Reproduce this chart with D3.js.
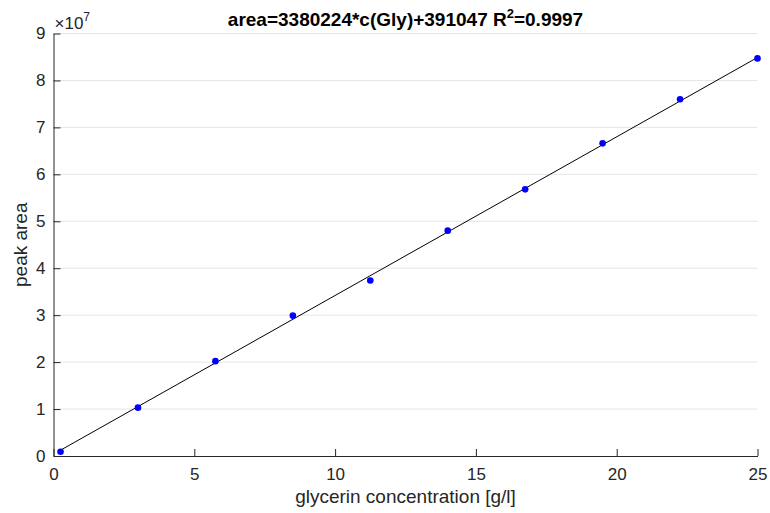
<!DOCTYPE html>
<html lang="en">
<head>
  <meta charset="UTF-8">
  <title>glycerin calibration</title>
  <style>
    body { margin: 0; background: #fff; }
    svg { display: block; font-family: "Liberation Sans", Arial, sans-serif; }
    .axis path, .axis line { stroke: #262626; }
    .axis text { fill: #262626; font-size: 17px; }
    .grid line { stroke: #e6e6e6; }
  </style>
  <script src="https://cdn.jsdelivr.net/npm/d3@7"></script>
</head>
<body>
  <script>
    // measured calibration points
    const conc = [0.25, 3.0, 5.75, 8.5, 11.25, 14.0, 16.75, 19.5, 22.25, 25.0];
    const peakArea = [0.09e7, 1.03e7, 2.02e7, 2.99e7, 3.74e7, 4.80e7, 5.68e7, 6.66e7, 7.60e7, 8.47e7];
    // fit from the title
    const slope = 3380224;
    const intercept = 391047;
    const rSquared = "0.9997";
    const xTicks = [0, 5, 10, 15, 20, 25];
    const yTicks = [0, 1, 2, 3, 4, 5, 6, 7, 8, 9].map(d => d * 1e7);

    const w = 770, h = 513;
    const mLeft = 53.5, mRight = 757.5, mTop = 33.5, mBottom = 456;

    const svg = d3.select("body").append("svg")
      .attr("width", w)
      .attr("height", h);

    const xScale = d3.scaleLinear().domain([0, 25]).range([mLeft, mRight]);
    const yScale = d3.scaleLinear().domain([0, 9e7]).range([mBottom, mTop]);

    // horizontal grid
    svg.append("g")
      .attr("class", "grid")
      .selectAll("line")
      .data(yTicks.slice(1))
      .enter()
      .append("line")
      .attr("x1", mLeft)
      .attr("x2", mRight)
      .attr("y1", d => yScale(d))
      .attr("y2", d => yScale(d));

    // fit line
    const line = d3.line()
      .x(d => xScale(d))
      .y(d => yScale(slope * d + intercept));

    svg.append("path")
      .datum([conc[0], conc[conc.length - 1]])
      .attr("d", line)
      .attr("fill", "none")
      .attr("stroke", "#000")
      .attr("stroke-width", 1);

    svg.selectAll("circle")
      .data(conc)
      .enter()
      .append("circle")
      .attr("cx", d => xScale(d))
      .attr("cy", (d, i) => yScale(peakArea[i]))
      .attr("r", 3.3)
      .attr("fill", "#0000ff");

    const xAxis = d3.axisBottom(xScale).tickValues(xTicks).tickSizeInner(-7).tickSizeOuter(0).tickPadding(12);
    const yAxis = d3.axisLeft(yScale).tickValues(yTicks).tickFormat(d => d / 1e7).tickSizeInner(-7).tickSizeOuter(0).tickPadding(8);

    svg.append("g")
      .attr("class", "axis")
      .attr("transform", "translate(0," + mBottom + ")")
      .call(xAxis);

    svg.append("g")
      .attr("class", "axis")
      .attr("transform", "translate(" + mLeft + ",0)")
      .call(yAxis);

    // exponent
    const expo = svg.append("text")
      .attr("x", mLeft + 1)
      .attr("y", 29)
      .attr("fill", "#262626")
      .style("font-size", "17px");
    expo.append("tspan").text("\u00d710");
    expo.append("tspan").attr("dy", -8).style("font-size", "12px").text("7");

    // title
    const title = svg.append("text")
      .attr("x", (mLeft + mRight) / 2)
      .attr("y", 26)
      .attr("text-anchor", "middle")
      .attr("font-weight", "bold")
      .attr("fill", "#000")
      .style("font-size", "19px");
    title.append("tspan").text("area=" + slope + "*c(Gly)+" + intercept + " R");
    title.append("tspan").attr("dy", -8).style("font-size", "13px").text("2");
    title.append("tspan").attr("dy", 8).text("=" + rSquared);

    svg.append("text")
      .attr("x", (mLeft + mRight) / 2)
      .attr("y", 503)
      .attr("text-anchor", "middle")
      .attr("fill", "#262626")
      .style("font-size", "19px")
      .text("glycerin concentration [g/l]");

    svg.append("text")
      .attr("transform", "translate(27," + (mTop + mBottom) / 2 + ") rotate(-90)")
      .attr("text-anchor", "middle")
      .attr("fill", "#262626")
      .style("font-size", "19px")
      .text("peak area");
  </script>
</body>
</html>
